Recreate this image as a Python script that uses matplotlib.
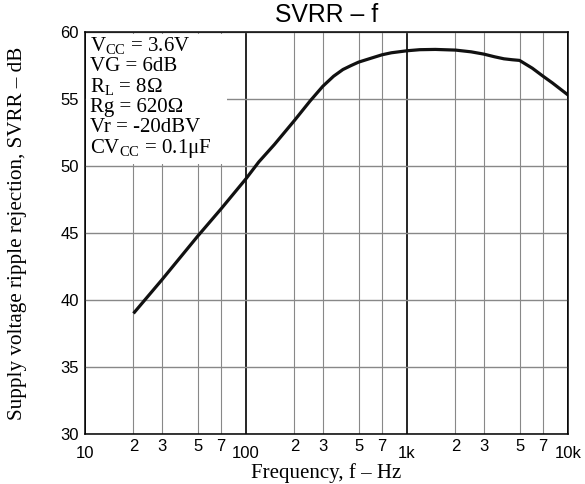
import matplotlib
matplotlib.use("Agg")
import matplotlib.pyplot as plt
from matplotlib.patches import Rectangle
from matplotlib.ticker import FixedLocator, FixedFormatter

# ---- data ----
freq = [20, 30, 50, 70, 100, 120, 150, 200, 250, 300, 350, 400, 450, 500, 600, 700, 800,
        1000, 1200, 1500, 2000, 2500, 3000, 3500, 4000, 4500, 5000, 6000, 7000, 8000, 10000]
svrr = [39.0, 41.5, 44.75, 46.8, 49.05, 50.3, 51.6, 53.4, 54.85, 55.95, 56.7, 57.2, 57.5,
        57.75, 58.05, 58.3, 58.45, 58.6, 58.68, 58.7, 58.65, 58.52, 58.35, 58.15, 58.0,
        57.93, 57.88, 57.3, 56.7, 56.2, 55.3]

major_x = [10, 100, 1000, 10000]
major_x_labels = ["10", "100", "1k", "10k"]
minor_x = [20, 30, 50, 70, 200, 300, 500, 700, 2000, 3000, 5000, 7000]
minor_x_labels = ["2", "3", "5", "7"] * 3
y_ticks = [30, 35, 40, 45, 50, 55, 60]

conditions = [r"V$_{\mathrm{CC}}$ = 3.6V", "VG = 6dB", r"R$_{\mathrm{L}}$ = 8Ω",
              "Rg = 620Ω", "Vr = -20dBV", r"CV$_{\mathrm{CC}}$ = 0.1μF"]

title = "SVRR – f"
xlabel = "Frequency, f – Hz"
ylabel = "Supply voltage ripple rejection, SVRR – dB"

# ---- style ----
plt.rcParams['mathtext.fontset'] = 'custom'
plt.rcParams['mathtext.rm'] = 'Liberation Serif'
plt.rcParams['mathtext.it'] = 'Liberation Serif:italic'

W, H = 585, 484
fig = plt.figure(figsize=(W / 100, H / 100), dpi=100)
L, R, T, B = 85, 568, 32, 434
ax = fig.add_axes([L / W, 1 - B / H, (R - L) / W, (B - T) / H])

ax.set_xscale('log')
ax.set_xlim(10, 10000)
ax.set_ylim(30, 60)

ax.xaxis.set_major_locator(FixedLocator(major_x))
ax.xaxis.set_major_formatter(FixedFormatter(major_x_labels))
ax.xaxis.set_minor_locator(FixedLocator(minor_x))
ax.xaxis.set_minor_formatter(FixedFormatter(minor_x_labels))
ax.yaxis.set_major_locator(FixedLocator(y_ticks))
ax.yaxis.set_minor_locator(FixedLocator([]))

sans = ['Liberation Sans', 'DejaVu Sans']
serif = ['Liberation Serif', 'DejaVu Serif']
ax.tick_params(axis='x', which='major', length=0, pad=8.6, labelsize=12)
ax.tick_params(axis='x', which='minor', length=0, pad=3.6, labelsize=12)
ax.tick_params(axis='y', which='major', length=0, pad=4.5, labelsize=12)
for lab in ax.get_xticklabels(which='both') + ax.get_yticklabels():
    lab.set_family(sans)

ax.grid(True, which='major', axis='x', color='black', linewidth=1.2)
ax.grid(True, which='minor', axis='x', color='#888888', linewidth=0.8)
ax.grid(True, which='major', axis='y', color='#888888', linewidth=1.0)

for s in ax.spines.values():
    s.set_color('black')
    s.set_linewidth(1.1)
    s.set_zorder(5)

# white box behind the conditions text
ax.add_patch(Rectangle((10.2, 50.12), 65.8, 9.75, facecolor='white',
                       edgecolor='none', zorder=1.8))

ax.plot(freq, svrr, color='#111111', linewidth=2.3, zorder=3,
        solid_capstyle='butt', solid_joinstyle='round')

# conditions text
baselines = [51, 71.3, 91.6, 111.9, 132.3, 152.6]
for txt, yb in zip(conditions, baselines):
    fig.text(90.5 / W, 1 - yb / H, txt, fontsize=15, family=serif,
             ha='left', va='baseline', zorder=4)

fig.text((L + R) / 2 / W, 1 - 22 / H, title, fontsize=17.8, family=sans,
         ha='center', va='baseline')

ax.set_xlabel(xlabel, fontsize=15, family=serif)
ax.xaxis.set_label_coords(0.5, (B - 463) / (B - T))
ax.set_ylabel(ylabel, fontsize=15.2, family=serif)
ax.yaxis.set_label_coords((27.5 - L) / (R - L), 0.5)

fig.savefig("out.png", dpi=100)
